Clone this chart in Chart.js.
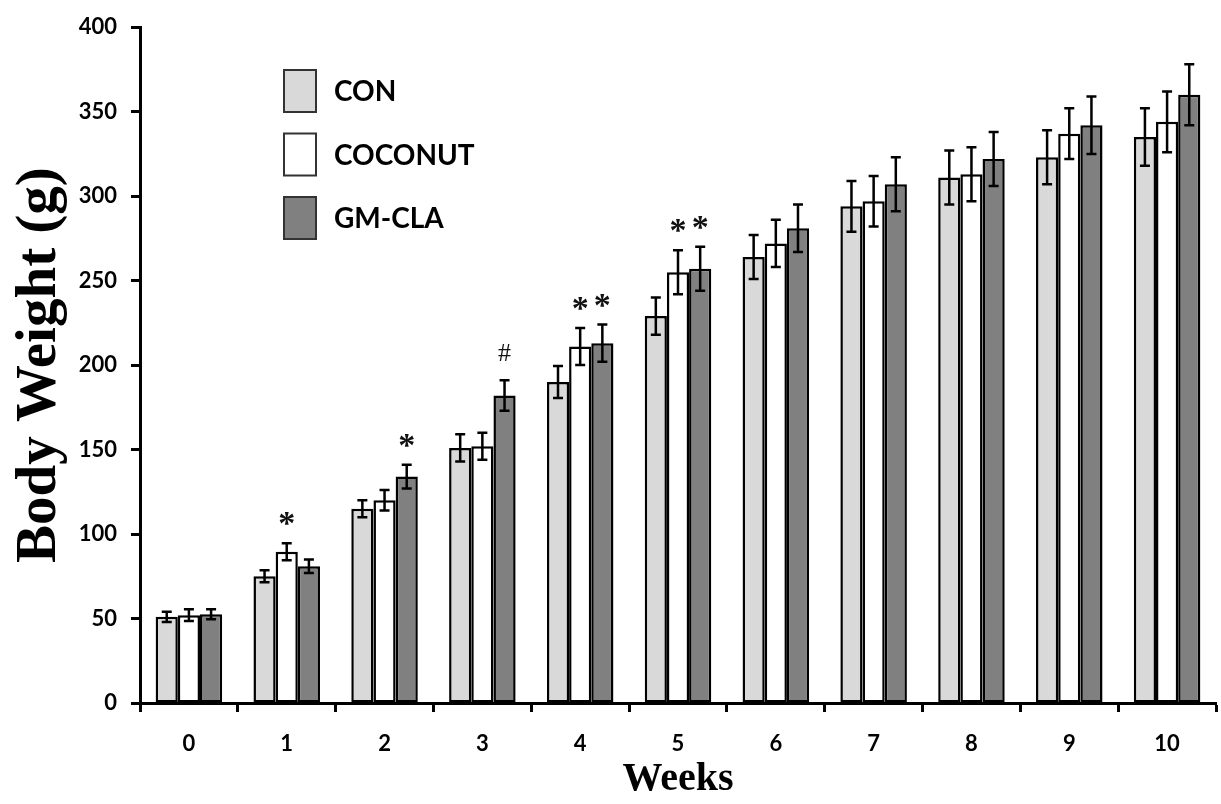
<!DOCTYPE html>
<html>
<head>
<meta charset="utf-8">
<script src="https://cdn.jsdelivr.net/npm/chart.js@4/dist/chart.umd.min.js"></script>
<style>
  html, body { margin: 0; padding: 0; background: #fff; }
  #wrap { width: 1221px; height: 804px; position: relative; }
</style>
</head>
<body>
<div id="wrap"><canvas id="chart"></canvas></div>
<script>
// data
const weeks = ['0', '1', '2', '3', '4', '5', '6', '7', '8', '9', '10'];
const conMean = [51, 75, 115, 151, 190, 229, 264, 294, 311, 323, 335];
const conErr = [3, 3.5, 5, 8, 9.5, 11, 13, 15, 16, 16, 17];
const cocoMean = [52, 89.5, 120, 152, 211, 255, 272, 297, 313, 337, 344];
const cocoErr = [3.5, 5, 6, 8, 11, 13, 14, 15, 16, 15, 18];
const gmMean = [52.5, 81, 134, 182, 213, 257, 281, 307, 322, 342, 360];
const gmErr = [3, 4, 7, 9, 11, 13, 14, 16, 16, 17, 18];
const yTicks = [0, 50, 100, 150, 200, 250, 300, 350, 400];
// significance marks: [week index, dataset index, symbol]
const sigMarks = [[1, 1, '*'], [2, 2, '*'], [3, 2, '#'], [4, 1, '*'], [4, 2, '*'], [5, 1, '*'], [5, 2, '*']];

const errs = [conErr, cocoErr, gmErr];

const errorBars = {
  id: 'errorBars',
  afterDatasetsDraw(chart) {
    const ctx = chart.ctx;
    const y = chart.scales.y;
    ctx.save();
    ctx.strokeStyle = '#000';
    ctx.lineWidth = 2.5;
    chart.data.datasets.forEach((ds, i) => {
      const meta = chart.getDatasetMeta(i);
      meta.data.forEach((bar, j) => {
        const v = ds.data[j], e = errs[i][j];
        const top = y.getPixelForValue(v + e);
        const bot = y.getPixelForValue(v - e);
        ctx.beginPath();
        ctx.moveTo(bar.x, top); ctx.lineTo(bar.x, bot);
        ctx.moveTo(bar.x - 5, top); ctx.lineTo(bar.x + 5, top);
        ctx.moveTo(bar.x - 5, bot); ctx.lineTo(bar.x + 5, bot);
        ctx.stroke();
      });
    });
    // significance symbols above the error bar
    ctx.fillStyle = '#111';
    ctx.textAlign = 'center';
    ctx.textBaseline = 'alphabetic';
    sigMarks.forEach(([w, s, sym]) => {
      const bar = chart.getDatasetMeta(s).data[w];
      const v = chart.data.datasets[s].data[w] + errs[s][w];
      const yp = y.getPixelForValue(v);
      if (sym === '*') {
        ctx.font = 'bold 34px "Liberation Serif"';
        ctx.fillText(sym, bar.x, yp - 9);
      } else {
        ctx.font = '26px "Liberation Serif"';
        ctx.fillText(sym, bar.x, yp - 19);
      }
    });
    ctx.restore();
  }
};

const boxLegend = {
  id: 'boxLegend',
  afterDraw(chart) {
    const ctx = chart.ctx;
    ctx.save();
    ctx.lineWidth = 2;
    ctx.strokeStyle = '#333';
    ctx.textBaseline = 'middle';
    ctx.font = 'bold 28px Lato';
    chart.data.datasets.forEach((ds, i) => {
      const top = 70 + i * 63.5;
      ctx.fillStyle = ds.backgroundColor;
      ctx.fillRect(284, top, 32, 42);
      ctx.strokeRect(284, top, 32, 42);
      ctx.fillStyle = '#000';
      ctx.fillText(ds.label, 334, top + 22);
    });
    ctx.restore();
  }
};

const barStyle = { borderColor: '#000', borderWidth: 2.5, borderSkipped: false, barPercentage: 1, categoryPercentage: 0.68 };
const tickFont = { family: 'Lato', weight: 'bold', size: 22 };

new Chart(document.getElementById('chart'), {
  type: 'bar',
  data: {
    labels: weeks,
    datasets: [
      { label: 'CON', data: conMean, backgroundColor: '#d9d9d9', ...barStyle },
      { label: 'COCONUT', data: cocoMean, backgroundColor: '#ffffff', ...barStyle },
      { label: 'GM-CLA', data: gmMean, backgroundColor: '#808080', ...barStyle }
    ]
  },
  options: {
    responsive: true,
    maintainAspectRatio: false,
    animation: false,
    layout: { padding: { top: 16, right: 5, left: 0, bottom: 0 } },
    plugins: {
      legend: { display: false },
      tooltip: { enabled: false }
    },
    scales: {
      x: {
        afterFit(axis) { axis.height = 101; },
        grid: { offset: true, drawOnChartArea: false, drawTicks: true, tickLength: 9, tickColor: '#000', tickWidth: 3 },
        border: { color: '#000', width: 3 },
        ticks: { color: '#000', font: tickFont, padding: 19 },
        title: { display: true, text: 'Weeks', color: '#000', font: { family: 'Liberation Serif', weight: 'bold', size: 40 }, padding: { top: 0, bottom: 0 } }
      },
      y: {
        min: 0,
        max: 400,
        afterBuildTicks(axis) { axis.ticks = yTicks.map(v => ({ value: v })); },
        afterFit(axis) { axis.width = 140; },
        grid: { drawOnChartArea: false, drawTicks: true, tickLength: 9, tickColor: '#000', tickWidth: 3 },
        border: { color: '#000', width: 3 },
        ticks: { color: '#000', font: tickFont, padding: 14 },
        title: { display: true, text: 'Body Weight (g)', color: '#000', font: { family: 'Liberation Serif', weight: 'bold', size: 57 }, padding: { top: 6, bottom: 0 } }
      }
    }
  },
  plugins: [errorBars, boxLegend]
});
</script>
</body>
</html>
